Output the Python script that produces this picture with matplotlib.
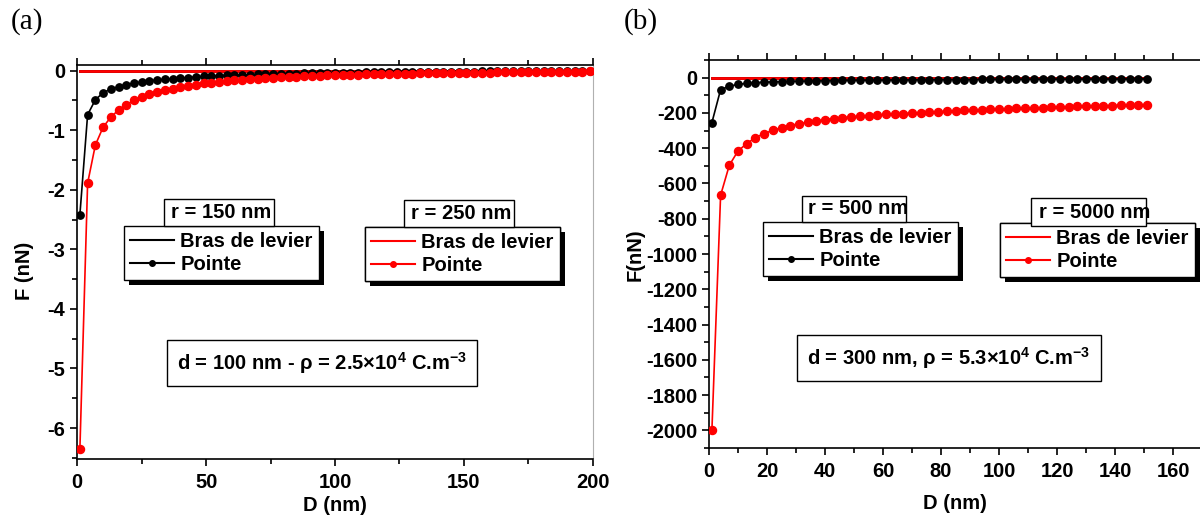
import matplotlib
matplotlib.use('Agg')
import matplotlib.pyplot as plt
from matplotlib.lines import Line2D
from matplotlib.patches import Rectangle
from matplotlib.transforms import IdentityTransform
from matplotlib.ticker import MultipleLocator

W, H = 1200, 517

plt.rcParams['font.family'] = ['Liberation Sans', 'DejaVu Sans']
plt.rcParams['font.weight'] = 'bold'
plt.rcParams['axes.labelweight'] = 'bold'
plt.rcParams['axes.unicode_minus'] = False
plt.rcParams['mathtext.fontset'] = 'custom'
plt.rcParams['mathtext.rm'] = 'Liberation Sans:bold'
plt.rcParams['mathtext.bf'] = 'Liberation Sans:bold'
plt.rcParams['mathtext.default'] = 'bf'

# ---- panel (a) : d = 100 nm ----
D_a = [1, 4, 7, 10, 13, 16, 19, 22, 25, 28, 31, 34, 37, 40, 43, 46, 49, 52, 55, 58,
       61, 64, 67, 70, 73, 76, 79, 82, 85, 88, 91, 94, 97, 100, 103, 106, 109, 112,
       115, 118, 121, 124, 127, 130, 133, 136, 139, 142, 145, 148, 151, 154, 157,
       160, 163, 166, 169, 172, 175, 178, 181, 184, 187, 190, 193, 196, 199]
pointe_150 = [-2.42, -0.74, -0.49, -0.37, -0.31, -0.27, -0.235, -0.21, -0.19, -0.17,
              -0.155, -0.145, -0.135, -0.125, -0.115, -0.106, -0.098, -0.092, -0.086,
              -0.081, -0.076, -0.072, -0.068, -0.064, -0.060, -0.057, -0.054, -0.051,
              -0.048, -0.046, -0.043, -0.041, -0.039, -0.037, -0.035, -0.033, -0.031,
              -0.030, -0.029, -0.027, -0.026, -0.025, -0.024, -0.023, -0.022, -0.021,
              -0.020, -0.019, -0.018, -0.017, -0.016, -0.015, -0.014, -0.014, -0.013,
              -0.012, -0.011, -0.011, -0.010, -0.009, -0.009, -0.008, -0.007, -0.007,
              -0.006, -0.006, -0.005]
pointe_250 = [-6.36, -1.89, -1.25, -0.95, -0.78, -0.66, -0.57, -0.50, -0.44, -0.40,
              -0.36, -0.33, -0.30, -0.275, -0.255, -0.235, -0.215, -0.20, -0.185,
              -0.172, -0.16, -0.15, -0.14, -0.132, -0.124, -0.117, -0.11, -0.104,
              -0.099, -0.094, -0.089, -0.085, -0.081, -0.077, -0.073, -0.070, -0.067,
              -0.064, -0.061, -0.058, -0.056, -0.053, -0.051, -0.049, -0.047, -0.045,
              -0.043, -0.041, -0.039, -0.037, -0.036, -0.034, -0.032, -0.031, -0.029,
              -0.028, -0.026, -0.025, -0.024, -0.022, -0.021, -0.020, -0.018, -0.017,
              -0.016, -0.015, -0.014]
levier_150 = [0.0] * len(D_a)
levier_250 = [0.0] * len(D_a)

# ---- panel (b) : d = 300 nm ----
D_b = [1, 4, 7, 10, 13, 16, 19, 22, 25, 28, 31, 34, 37, 40, 43, 46, 49, 52, 55, 58,
       61, 64, 67, 70, 73, 76, 79, 82, 85, 88, 91, 94, 97, 100, 103, 106, 109, 112,
       115, 118, 121, 124, 127, 130, 133, 136, 139, 142, 145, 148, 151]
pointe_500 = [-255, -68, -49, -38, -33, -29, -26, -24, -22, -21, -20, -19, -18, -17,
              -16.5, -16, -15.5, -15, -14.5, -14, -13.5, -13, -12.7, -12.4, -12.1,
              -11.8, -11.5, -11.2, -11, -10.8, -10.6, -10.4, -10.2, -10, -9.8, -9.6,
              -9.4, -9.2, -9.0, -8.8, -8.6, -8.4, -8.2, -8.0, -7.8, -7.6, -7.4, -7.2,
              -7.0, -6.8, -6.6]
pointe_5000 = [-2000, -667, -497, -416, -374, -340, -317, -299, -284, -272, -261, -253,
               -246, -238, -232, -227, -222, -218, -215, -212, -209, -206, -204, -201,
               -198, -196, -193, -191, -189, -186, -184, -182, -180, -178, -176, -175,
               -173, -171, -170, -168, -166, -165, -163, -162, -160, -159, -158, -156,
               -155, -154, -153]
levier_500 = [0.0] * len(D_b)
levier_5000 = [0.0] * len(D_b)

fig = plt.figure(figsize=(W / 100, H / 100), dpi=100)


def px_axes(x0, y0, x1, y1):
    return fig.add_axes([x0 / W, 1 - y1 / H, (x1 - x0) / W, (y1 - y0) / H])


ax1 = px_axes(77.3, 64.7, 592.7, 459)
ax2 = px_axes(709, 60, 1216.5, 448)

for ax, D, lev1, lev2, p1, p2 in [(ax1, D_a, levier_150, levier_250, pointe_150, pointe_250),
                                  (ax2, D_b, levier_500, levier_5000, pointe_500, pointe_5000)]:
    ax.plot(D, lev1, color='black', lw=2, zorder=2)
    ax.plot(D, lev2, color='red', lw=2, zorder=2.1)
    ax.plot(D, p1, color='black', lw=1.2, marker='o', ms=5.3, zorder=3)
    ax.plot(D, p2, color='red', lw=1.2, marker='o', ms=5.8, zorder=3.1)
    ax.tick_params(which='both', direction='out', top=True, right=False,
                   labelsize=14.5, width=1.2)
    ax.tick_params(axis='y', pad=3.5)
    ax.tick_params(axis='x', pad=5)
    ax.tick_params(which='major', length=5)
    ax.tick_params(which='minor', length=3.3)
    for s in ['left', 'bottom', 'top']:
        ax.spines[s].set_linewidth(1.2)

ax1.spines['right'].set_color('#b0b0b0')
ax1.spines['right'].set_linewidth(0.8)

ax1.set_xlim(0, 200)
ax1.set_ylim(-6.52, 0.1)
ax1.xaxis.set_major_locator(MultipleLocator(50))
ax1.xaxis.set_minor_locator(MultipleLocator(25))
ax1.yaxis.set_major_locator(MultipleLocator(1))
ax1.yaxis.set_minor_locator(MultipleLocator(0.5))

ax2.set_xlim(0, 175)
ax2.set_ylim(-2100, 100)
ax2.xaxis.set_major_locator(MultipleLocator(20))
ax2.xaxis.set_minor_locator(MultipleLocator(10))
ax2.yaxis.set_major_locator(MultipleLocator(200))
ax2.yaxis.set_minor_locator(MultipleLocator(100))

ax1.set_xlabel('D (nm)', fontsize=14.5)
ax1.set_ylabel('F (nN)', fontsize=14.5)
ax2.set_xlabel('D (nm)', fontsize=14.5)
ax2.set_ylabel('F(nN)', fontsize=14.5)
ax1.xaxis.set_label_coords(335 / W, 1 - 496 / H, transform=fig.transFigure)
ax2.xaxis.set_label_coords(955 / W, 1 - 494 / H, transform=fig.transFigure)
ax1.yaxis.set_label_coords(34 / W, 1 - 271 / H, transform=fig.transFigure)
ax2.yaxis.set_label_coords(645 / W, 1 - 255 / H, transform=fig.transFigure)

leg_font = {'family': 'Liberation Sans', 'weight': 'bold', 'size': 14.5}


def add_legend(ax, color, x_px, y_px):
    handles = [Line2D([], [], color=color, lw=1.5),
               Line2D([], [], color=color, lw=1.5, marker='o', ms=4)]
    leg = ax.legend(handles, ['Bras de levier', 'Pointe'], loc='upper left',
                    bbox_to_anchor=(x_px / W, 1 - y_px / H), bbox_transform=fig.transFigure,
                    borderaxespad=0, fancybox=False, edgecolor='black', framealpha=1,
                    prop=leg_font, handlelength=2.2, handletextpad=0.3,
                    borderpad=0.3, labelspacing=0.2)
    leg.get_frame().set_linewidth(1.0)
    ax.add_artist(leg)
    return leg


legends = [(ax1, add_legend(ax1, 'black', 124, 226)),
           (ax1, add_legend(ax1, 'red', 365, 227)),
           (ax2, add_legend(ax2, 'black', 763, 222)),
           (ax2, add_legend(ax2, 'red', 1000, 223))]


def title_box(x0, y0, x1, y1, text, tx):
    fig.add_artist(Rectangle((x0 / W, 1 - y1 / H), (x1 - x0) / W, (y1 - y0) / H,
                             transform=fig.transFigure, facecolor='white',
                             edgecolor='black', lw=1, zorder=10))
    fig.text(tx / W, 1 - (y0 + y1) / 2 / H, text, fontsize=14.5, ha='left', va='center',
             zorder=11)


title_box(164, 199, 274, 226, 'r = 150 nm', 171)
title_box(404, 200, 514, 227, 'r = 250 nm', 411)
title_box(802, 196, 906, 222, 'r = 500 nm', 808)
title_box(1031, 198, 1146, 226, 'r = 5000 nm', 1039)

box = dict(boxstyle='square,pad=0.5', facecolor='white', edgecolor='black', lw=1)
fig.text(322 / W, 1 - 363 / H, 'd = 100 nm - ρ = 2.5×10$^{4}$ C.m$^{-3}$',
         fontsize=14.5, ha='center', va='center', bbox=box, zorder=11)
fig.text(949 / W, 1 - 358 / H, 'd = 300 nm, ρ = 5.3×10$^{4}$ C.m$^{-3}$',
         fontsize=14.5, ha='center', va='center', bbox=box, zorder=11)

fig.text(27 / W, 1 - 22 / H, '(a)', family='Liberation Serif', fontweight='normal',
         fontsize=21, ha='center', va='center')
fig.text(641 / W, 1 - 22 / H, '(b)', family='Liberation Serif', fontweight='normal',
         fontsize=21, ha='center', va='center')

# black drop shadows behind the legends
fig.canvas.draw()
for ax, leg in legends:
    bb = leg.get_window_extent()
    ax.add_patch(Rectangle((bb.x0 + 5, bb.y0 - 5), bb.width, bb.height,
                           transform=IdentityTransform(), facecolor='black',
                           edgecolor='none', zorder=4.9, clip_on=False))

fig.savefig('out.png', dpi=100)
